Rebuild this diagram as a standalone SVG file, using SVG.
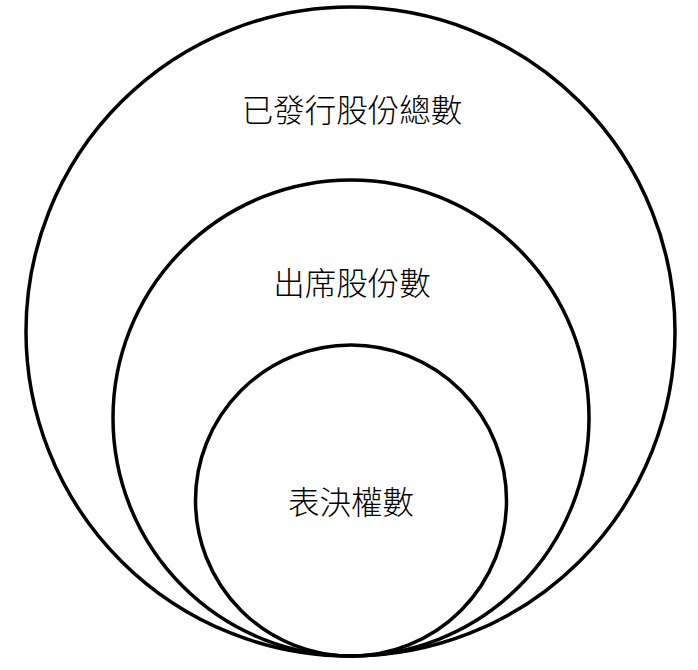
<svg xmlns="http://www.w3.org/2000/svg" width="698" height="670" viewBox="0 0 698 670">
<style>
.c{fill:none;stroke:#000;stroke-width:3.5}
.t{font-family:"Noto Sans CJK TC","Noto Sans CJK SC",sans-serif;font-size:31.5px;font-weight:300;text-anchor:middle;dominant-baseline:central;fill:#000}
</style>
<rect width="698" height="670" fill="#fff"/>
<g id="outer"><circle class="c" cx="350.5" cy="331.5" r="324.5"/><text class="t" x="352" y="108">已發行股份總數</text></g>
<g id="middle"><circle class="c" cx="351" cy="418" r="238"/><text class="t" x="352" y="281">出席股份數</text></g>
<g id="inner"><circle class="c" cx="351" cy="500.5" r="155.5"/><text class="t" x="351" y="500">表決權數</text></g>
<g id="connectors"/>
</svg>
